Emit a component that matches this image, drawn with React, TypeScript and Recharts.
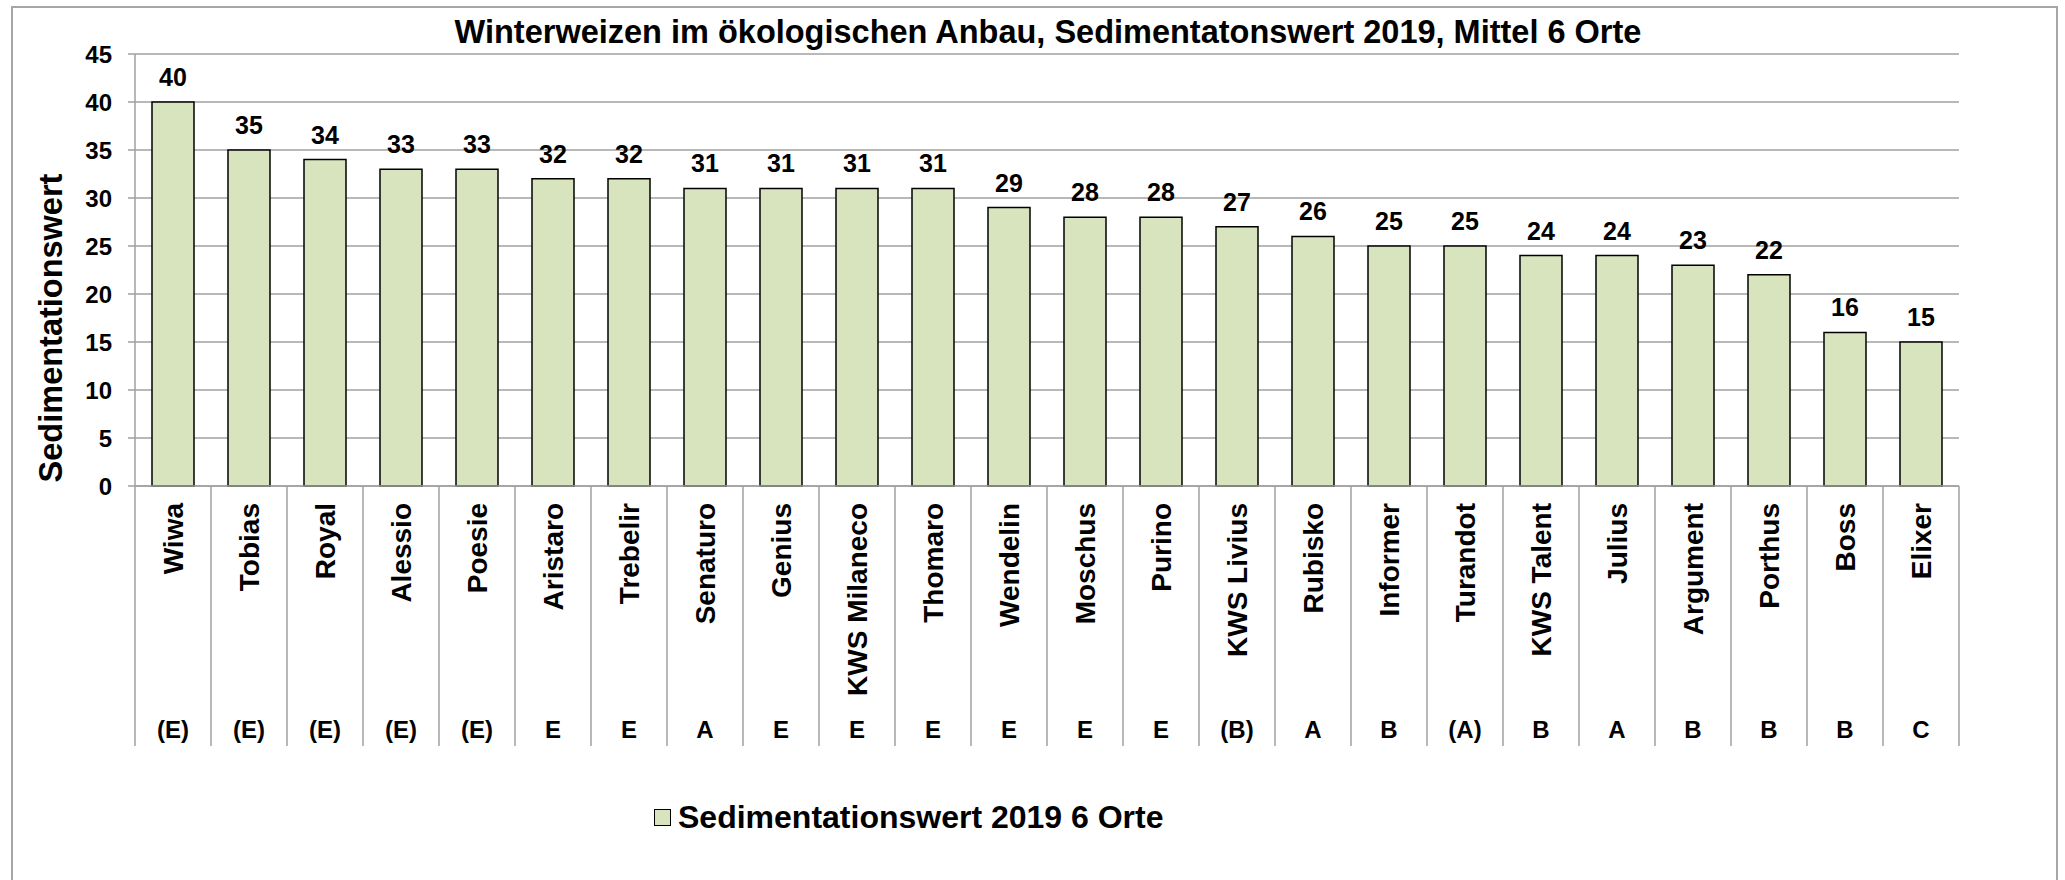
import React from "react";
import { BarChart, Bar, XAxis, YAxis, CartesianGrid, LabelList, Legend } from "recharts";

const categories = [
  "Wiwa", "Tobias", "Royal", "Alessio", "Poesie", "Aristaro", "Trebelir", "Senaturo",
  "Genius", "KWS Milaneco", "Thomaro", "Wendelin", "Moschus", "Purino", "KWS Livius",
  "Rubisko", "Informer", "Turandot", "KWS Talent", "Julius", "Argument", "Porthus", "Boss", "Elixer",
];
const sedimentation = [40, 35, 34, 33, 33, 32, 32, 31, 31, 31, 31, 29, 28, 28, 27, 26, 25, 25, 24, 24, 23, 22, 16, 15];
const qualityGroups = [
  "(E)", "(E)", "(E)", "(E)", "(E)", "E", "E", "A", "E", "E", "E", "E", "E", "E", "(B)",
  "A", "B", "(A)", "B", "A", "B", "B", "B", "C",
];
const yTicks = [0, 5, 10, 15, 20, 25, 30, 35, 40, 45];

const title = "Winterweizen im ökologischen Anbau, Sedimentatonswert 2019, Mittel 6 Orte";
const yTitle = "Sedimentationswert";
const seriesName = "Sedimentationswert 2019 6 Orte";

const data = categories.map((name, i) => ({ name, value: sedimentation[i], cls: qualityGroups[i] }));

const W = 2065;
const H = 880;
const PLOT_LEFT = 135;
const PLOT_RIGHT = 1959;
const PLOT_TOP = 54;
const PLOT_BOTTOM = 486;
const BAND = (PLOT_RIGHT - PLOT_LEFT) / categories.length;
const FONT = '"Liberation Sans", Arial, sans-serif';
const GRID = "#a0a0a0";
const FILL = "#d7e4bd";

const CategoryTick = (props: any) => {
  const { payload, index } = props;
  const cx = payload.coordinate;
  const left = cx - BAND / 2;
  const right = cx + BAND / 2;
  const isLast = index === categories.length - 1;
  const tx = cx + 10;
  const ty = PLOT_BOTTOM + 17;
  return (
    <g>
      <line x1={left} x2={left} y1={PLOT_BOTTOM} y2={746} stroke={GRID} strokeWidth={1.5} />
      {isLast && <line x1={right} x2={right} y1={PLOT_BOTTOM} y2={746} stroke={GRID} strokeWidth={1.5} />}
      <text
        x={tx}
        y={ty}
        transform={`rotate(-90, ${tx}, ${ty})`}
        textAnchor="end"
        fontFamily={FONT}
        fontWeight="bold"
        fontSize={28}
        fill="#000"
      >
        {payload.value}
      </text>
      <text x={cx} y={738} textAnchor="middle" fontFamily={FONT} fontWeight="bold" fontSize={24} fill="#000">
        {qualityGroups[index]}
      </text>
    </g>
  );
};

const ValueLabel = (props: any) => {
  const { x, y, width, value } = props;
  return (
    <text
      x={Number(x) + Number(width) / 2}
      y={Number(y) - 16}
      textAnchor="middle"
      fontFamily={FONT}
      fontWeight="bold"
      fontSize={25}
      fill="#000"
    >
      {value}
    </text>
  );
};

const LegendContent = () => (
  <div style={{ display: "flex", alignItems: "center", height: 34, fontFamily: FONT, whiteSpace: "nowrap" }}>
    <div style={{ width: 15, height: 15, background: FILL, border: "1.5px solid #000", marginRight: 7 }} />
    <span style={{ fontSize: 32, fontWeight: "bold", color: "#000", lineHeight: "34px" }}>{seriesName}</span>
  </div>
);

export default function App() {
  return (
    <div style={{ position: "absolute", left: 0, top: 0, width: W, height: H, background: "#fff", overflow: "hidden" }}>
      <div
        style={{
          position: "absolute",
          left: 11,
          top: 6,
          width: 2047,
          height: 900,
          border: "2px solid #a6a6a6",
          boxSizing: "border-box",
        }}
      />
      <div style={{ position: "absolute", left: 0, top: 0 }}>
        <BarChart
          width={W}
          height={H}
          data={data}
          margin={{ top: PLOT_TOP, right: W - PLOT_RIGHT, bottom: H - PLOT_BOTTOM - 300, left: PLOT_LEFT - 60 }}
        >
          <text x={1048} y={43} textAnchor="middle" fontFamily={FONT} fontWeight="bold" fontSize={32.5} fill="#000">
            {title}
          </text>
          <text
            x={62}
            y={328}
            transform="rotate(-90, 62, 328)"
            textAnchor="middle"
            fontFamily={FONT}
            fontWeight="bold"
            fontSize={32.5}
            fill="#000"
          >
            {yTitle}
          </text>
          <CartesianGrid vertical={false} stroke={GRID} strokeWidth={1.5} />
          <XAxis
            dataKey="name"
            interval={0}
            height={300}
            tickLine={false}
            axisLine={{ stroke: GRID, strokeWidth: 1.5 }}
            tick={<CategoryTick />}
          />
          <YAxis
            width={60}
            domain={[0, 45]}
            ticks={yTicks}
            interval={0}
            tickSize={7}
            tickMargin={16}
            axisLine={{ stroke: GRID, strokeWidth: 1.5 }}
            tickLine={{ stroke: GRID, strokeWidth: 1.5 }}
            tick={{ fontFamily: FONT, fontWeight: "bold", fontSize: 24, fill: "#000" }}
          />
          <Legend
            layout="horizontal"
            verticalAlign="middle"
            wrapperStyle={{ left: 654, top: 800, width: "auto" }}
            content={<LegendContent />}
          />
          <Bar dataKey="value" name={seriesName} fill={FILL} stroke="#000" strokeWidth={1.5} barSize={42} isAnimationActive={false}>
            <LabelList dataKey="value" content={<ValueLabel />} />
          </Bar>
        </BarChart>
      </div>
    </div>
  );
}
